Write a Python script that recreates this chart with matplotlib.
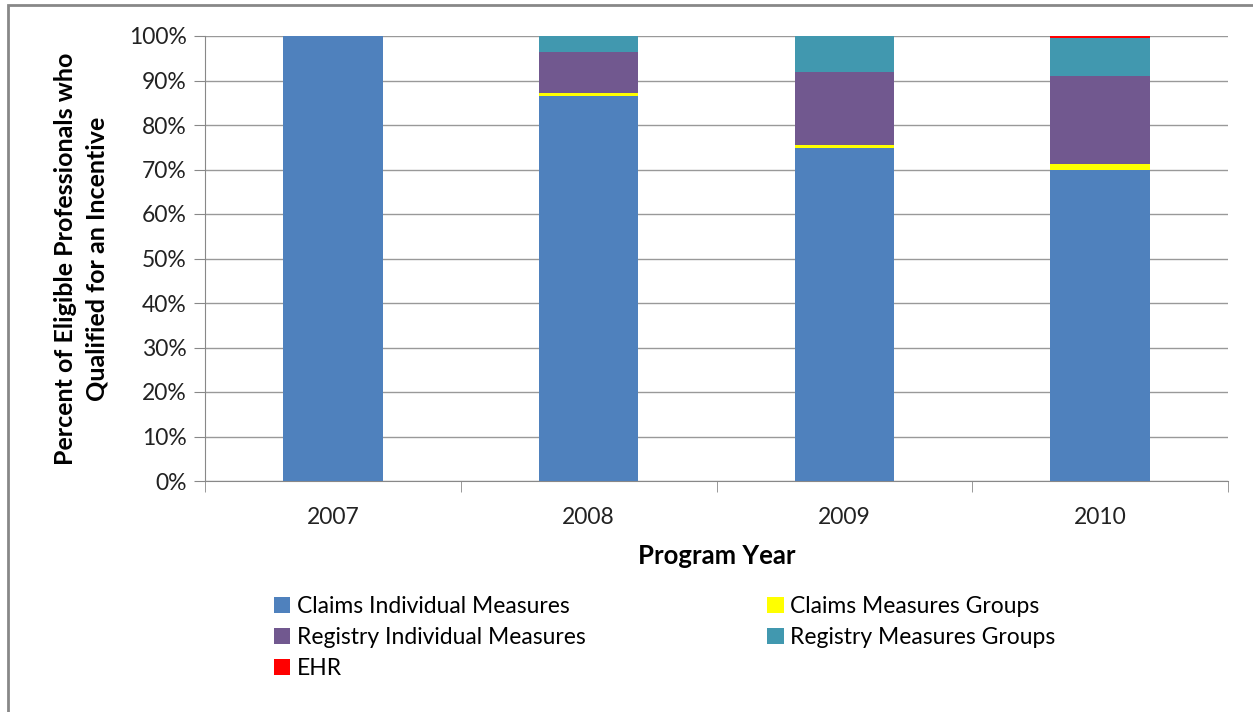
import matplotlib.pyplot as plt
import numpy as np
from matplotlib.patches import Rectangle

# Data (percent of eligible professionals, by reporting option)
years = ['2007', '2008', '2009', '2010']
claims_indiv = [100.0, 86.5, 74.9, 70.0]
claims_groups = [0.0, 0.6, 0.6, 1.2]
registry_indiv = [0.0, 9.2, 16.5, 19.7]
registry_groups = [0.0, 3.7, 8.0, 8.7]
ehr = [0.0, 0.0, 0.0, 0.4]

series = [
    ('Claims Individual Measures', claims_indiv, '#4F81BD'),
    ('Claims Measures Groups', claims_groups, '#FFFF00'),
    ('Registry Individual Measures', registry_indiv, '#71588F'),
    ('Registry Measures Groups', registry_groups, '#4198AF'),
    ('EHR', ehr, '#FF0000'),
]

plt.rcParams['font.family'] = ['Lato', 'DejaVu Sans']

W, H = 1253, 712
fig = plt.figure(figsize=(W / 100, H / 100), dpi=100)
ax = fig.add_axes([205 / W, 1 - 481 / H, (1228 - 205) / W, (481 - 36) / H])

# outer chart border
fig.patches.append(Rectangle((8 / W, -0.1), 1.2, 1 - 5 / H + 0.1, transform=fig.transFigure,
                             fill=False, edgecolor='#888888', linewidth=2))

x = np.arange(len(years))
bottom = np.zeros(len(years))
handles = {}
for name, vals, col in series:
    vals = np.array(vals)
    b = ax.bar(x, vals, 0.39, bottom=bottom, color=col, label=name, zorder=3)
    handles[name] = b
    bottom += vals

ax.set_xlim(-0.5, len(years) - 0.5)
ax.set_ylim(0, 100)
ax.set_yticks(np.arange(0, 101, 10))
ax.set_yticklabels([f'{v}%' for v in range(0, 101, 10)], fontsize=16.5, color='#222222')
ax.yaxis.grid(True, color='#999999', linewidth=1, zorder=0)
ax.tick_params(axis='y', length=8, color='#888888', pad=5)

ax.set_xticks(x)
ax.set_xticklabels(years, fontsize=16.5, color='#222222')
ax.tick_params(axis='x', length=0, pad=19)
ax.set_xticks(np.arange(-0.5, len(years), 1), minor=True)
ax.tick_params(axis='x', which='minor', length=8, color='#888888')

for s in ['top', 'right']:
    ax.spines[s].set_visible(False)
for s in ['left', 'bottom']:
    ax.spines[s].set_color('#888888')

ax.set_ylabel('Percent of Eligible Professionals who\nQualified for an Incentive',
              fontsize=18, fontweight='bold', labelpad=15, linespacing=1.45)
ax.set_xlabel('Program Year', fontsize=18.5, fontweight='bold', labelpad=11)

order = ['Claims Individual Measures', 'Registry Individual Measures', 'EHR',
         'Claims Measures Groups', 'Registry Measures Groups']
fig.legend([handles[n] for n in order], order, ncol=2, loc='upper left',
           bbox_to_anchor=(253 / W, 1 - 575 / H), frameon=False, fontsize=16.5,
           handlelength=0.7, handleheight=0.7, handletextpad=0.3,
           columnspacing=7.95, labelspacing=0.45)

fig.savefig('out.png', dpi=100)
